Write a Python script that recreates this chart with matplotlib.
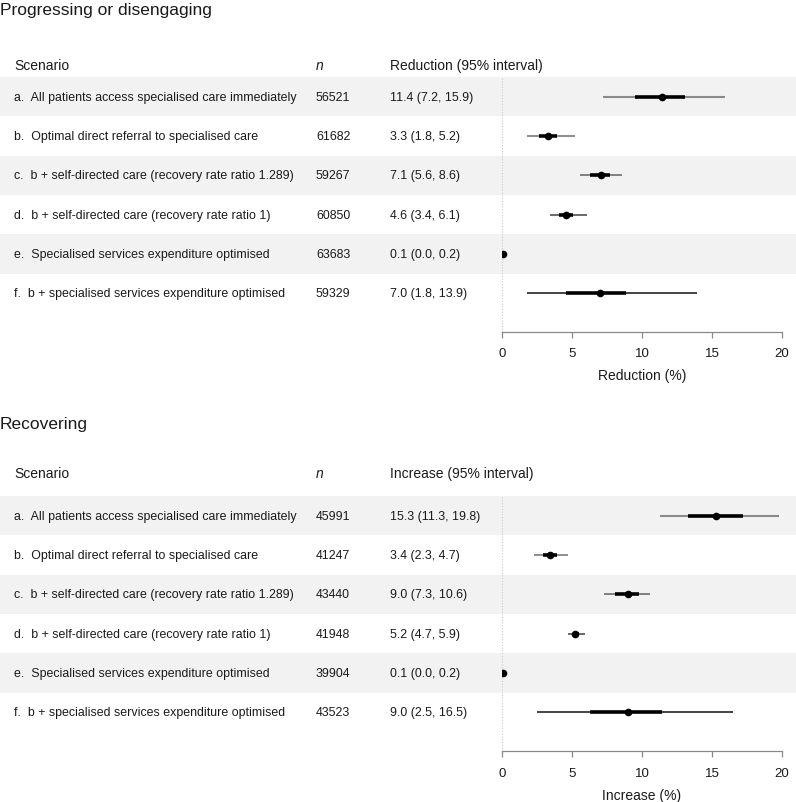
import matplotlib
matplotlib.use("Agg")
import matplotlib.pyplot as plt
from matplotlib import transforms
from matplotlib.patches import Rectangle

plt.rcParams['font.family'] = ['Liberation Sans', 'DejaVu Sans']

scenarios = [
    "a.  All patients access specialised care immediately",
    "b.  Optimal direct referral to specialised care",
    "c.  b + self-directed care (recovery rate ratio 1.289)",
    "d.  b + self-directed care (recovery rate ratio 1)",
    "e.  Specialised services expenditure optimised",
    "f.  b + specialised services expenditure optimised",
]

# Panel 1: Progressing or disengaging
prog_n = [56521, 61682, 59267, 60850, 63683, 59329]
prog_est = [11.4, 3.3, 7.1, 4.6, 0.1, 7.0]
prog_lo95 = [7.2, 1.8, 5.6, 3.4, 0.0, 1.8]
prog_hi95 = [15.9, 5.2, 8.6, 6.1, 0.2, 13.9]
prog_lo50 = [9.5, 2.65, 6.3, 4.05, 0.05, 4.6]
prog_hi50 = [13.1, 3.9, 7.7, 5.1, 0.15, 8.85]

# Panel 2: Recovering
rec_n = [45991, 41247, 43440, 41948, 39904, 43523]
rec_est = [15.3, 3.4, 9.0, 5.2, 0.1, 9.0]
rec_lo95 = [11.3, 2.3, 7.3, 4.7, 0.0, 2.5]
rec_hi95 = [19.8, 4.7, 10.6, 5.9, 0.2, 16.5]
rec_lo50 = [13.25, 2.95, 8.1, 5.05, 0.05, 6.3]
rec_hi50 = [17.2, 3.9, 9.8, 5.5, 0.15, 11.4]

outer_colors = ["#8a8a8a", "#707070", "#606060", "#404040", "#222222", "#111111"]
TXT = "#1a1a1a"

W, H = 796, 803
fig = plt.figure(figsize=(W / 100, H / 100), dpi=100)


def fy(px):
    return 1 - px / H


def fx(px):
    return px / W


def panel(title, title_y, header_y, col3, ax_top, ax_bot, ns, est, lo95, hi95, lo50, hi50, xlabel):
    ax = fig.add_axes([fx(502), fy(ax_bot), fx(782) - fx(502), (ax_bot - ax_top) / H])
    nrow = len(ns)
    pitch = 39.3
    ymax = -0.5 + (ax_bot - ax_top) / pitch
    ax.set_xlim(0, 20)
    ax.set_ylim(ymax, -0.5)
    ax.set_facecolor('none')
    blend = transforms.blended_transform_factory(fig.transFigure, ax.transData)
    for i in range(nrow):
        if i % 2 == 0:
            ax.add_patch(Rectangle((0, i - 0.5), 1, 1, transform=blend,
                                   facecolor="#f2f2f2", edgecolor='none',
                                   zorder=0, clip_on=False))
    ax.axvline(0, color="#c8c8c8", lw=0.8, ls=(0, (1, 1.5)), zorder=1)
    for i in range(nrow):
        ax.plot([lo95[i], hi95[i]], [i, i], color=outer_colors[i],
                lw=1.5 if i == 0 else 1.1, solid_capstyle='butt', zorder=2)
        ax.plot([lo50[i], hi50[i]], [i, i], color="black", lw=2.6,
                solid_capstyle='butt', zorder=3)
        ax.plot([est[i]], [i], 'o', color="black", ms=5.5, mew=0, zorder=4)
        ax.text(fx(14), i, scenarios[i], transform=blend, fontsize=8.9,
                va='center', ha='left', color=TXT)
        ax.text(fx(316), i, str(ns[i]), transform=blend, fontsize=8.9,
                va='center', ha='left', color=TXT)
        ax.text(fx(390), i, f"{est[i]:.1f} ({lo95[i]:.1f}, {hi95[i]:.1f})",
                transform=blend, fontsize=8.9, va='center', ha='left', color=TXT)
    for sp in ['top', 'right', 'left']:
        ax.spines[sp].set_visible(False)
    ax.spines['bottom'].set_color("#888888")
    ax.spines['bottom'].set_linewidth(0.9)
    ax.set_yticks([])
    ax.set_xticks([0, 5, 10, 15, 20])
    ax.tick_params(axis='x', direction='out', length=4, width=0.9, color="#888888",
                   labelsize=9.5, labelcolor=TXT, pad=7)
    ax.set_xlabel(xlabel, fontsize=10, color=TXT, labelpad=6.5)
    fig.text(0.0, fy(title_y), title, fontsize=12.5, va='center', ha='left', color=TXT)
    fig.text(fx(14), fy(header_y), "Scenario", fontsize=10, va='center', ha='left', color=TXT)
    fig.text(fx(316), fy(header_y), "n", fontsize=10, style='italic', va='center', ha='left', color=TXT)
    fig.text(fx(390), fy(header_y), col3, fontsize=10, va='center', ha='left', color=TXT)
    return ax


ax1 = panel("Progressing or disengaging", 10, 66, "Reduction (95% interval)", 78, 332.7,
            prog_n, prog_est, prog_lo95, prog_hi95, prog_lo50, prog_hi50, "Reduction (%)")
ax2 = panel("Recovering", 425, 474, "Increase (95% interval)", 497, 752.3,
            rec_n, rec_est, rec_lo95, rec_hi95, rec_lo50, rec_hi50, "Increase (%)")

fig.savefig("out.png", dpi=100)
